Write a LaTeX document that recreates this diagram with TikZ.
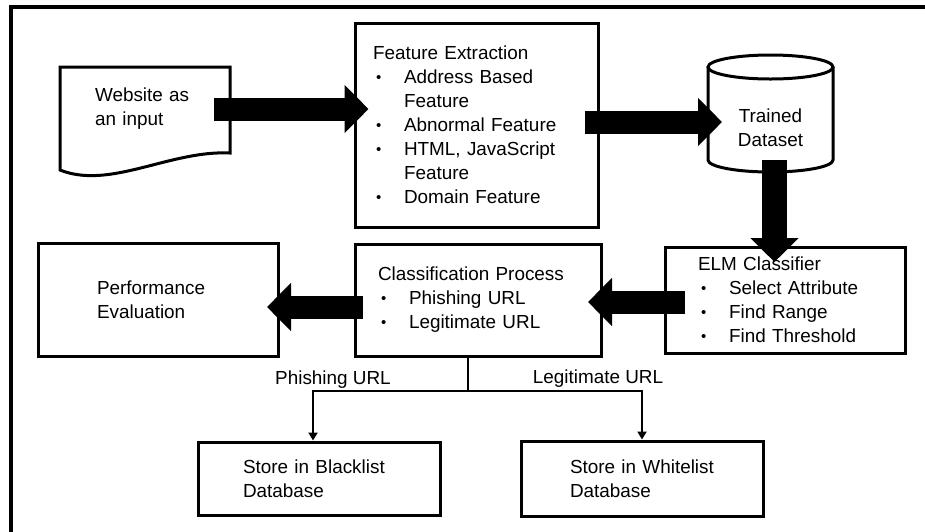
\documentclass[tikz,border=0pt]{standalone}
\usepackage{fontspec}
\setmainfont{Liberation Sans}
\usepackage{tikz}
\usetikzlibrary{positioning, arrows.meta, calc}

\newcommand{\bul}[1]{\hspace*{3pt}\makebox[28pt][l]{\raisebox{1.5pt}{\fontsize{15}{15}\selectfont\textbullet}}#1}
\newcommand{\cont}[1]{\hspace*{31pt}#1}

\begin{document}
\begin{tikzpicture}[x=1pt, y=-1pt,
  font=\fontsize{18.9}{24}\selectfont,
  box/.style={draw, line width=3pt, rectangle, align=left, inner ysep=0pt},
  fatarrow/.style={line width=23pt, -{Triangle[length=24pt, width=47pt]}},
  thinarrow/.style={line width=2pt, -{Triangle[length=8pt, width=9pt]}},
  lbl/.style={inner sep=0pt}]

\useasboundingbox (0,0) rectangle (925,531);
\clip (0,0) rectangle (925,531);

% Frame
\draw[line width=3.5pt] (11,560) -- (11,7) -- (960,7);

% --- Top row ---
% Input document
\node[align=left, inner xsep=35pt, inner ysep=0pt, outer sep=0pt, text width=100pt,
  minimum width=170pt, minimum height=84pt] (web) at (145,109) {Website as\\an input};
\draw[line width=3pt] ($(web.south east)+(0,2)$) -- (web.north east) -- (web.north west)
  -- ($(web.south west)+(0,19)$) .. controls ($(web.south west)+(50,39)$) and ($(web.south east)+(-60,-1)$)
  .. ($(web.south east)+(0,2)$) -- cycle;

% Feature extraction
\node[box, inner xsep=18pt, text width=207pt, minimum width=243pt, minimum height=204pt]
  (feat) at (476.5,125) {Feature Extraction\\
  \bul{Address Based}\\
  \cont{Feature}\\
  \bul{Abnormal Feature}\\
  \bul{HTML, JavaScript}\\
  \cont{Feature}\\
  \bul{Domain Feature}\par\vspace*{20pt}};

% Trained dataset (cylinder)
\node[align=center, inner sep=0pt, outer sep=0pt, minimum width=125pt, minimum height=64pt]
  (data) at (770.5,128) {Trained\\Dataset};
\draw[line width=3pt] ($(data.north)+(0,-29)$) ellipse [x radius=62.5pt, y radius=12pt];
\draw[line width=3pt] ($(data.north west)+(0,-29)$) -- (data.south west)
  arc [start angle=180, end angle=360, x radius=62.5pt, y radius=12pt]
  -- ($(data.north east)+(0,-29)$);

% --- Middle row ---
\node[box, inner xsep=33pt, text width=174pt, minimum width=240pt, minimum height=106pt]
  (elm) at (785,300) {ELM Classifier\\
  \bul{Select Attribute}\\
  \bul{Find Range}\\
  \bul{Find Threshold}};

\node[box, inner xsep=23pt, text width=200pt, minimum width=246pt, minimum height=112pt]
  (cls) at (478,300) {Classification Process\\
  \bul{Phishing URL}\\
  \bul{Legitimate URL}};

\node[box, inner xsep=59pt, text width=122pt, minimum width=240pt, minimum height=113pt]
  (perf) at (158,299.5) {Performance\\Evaluation};

% --- Bottom row ---
\node[box, inner xsep=45pt, text width=152pt, minimum width=242pt, minimum height=73pt]
  (black) at (319,478.5) {Store in Blacklist\\Database};
\node[box, inner xsep=49pt, text width=144pt, minimum width=242pt, minimum height=75pt]
  (white) at (642,478.5) {Store in Whitelist\\Database};

% Block arrows
\draw[fatarrow, shorten <=-16pt, shorten >=-15pt] (web.east) -- (web.east -| feat.west);
\coordinate (f2) at ($(feat.east)+(0,-3)$);
\draw[fatarrow, shorten <=-14.5pt, shorten >=-14pt] (f2) -- (f2 -| data.west);
\coordinate (d3) at ($(data.south)+(4,0)$);
\draw[fatarrow, line width=25pt, shorten >=-16.5pt] (d3) -- (d3 |- elm.north);
\coordinate (e4) at ($(elm.west)+(0,2)$);
\draw[fatarrow, shorten <=-21.5pt, shorten >=-14.5pt] (e4) -- (e4 -| cls.east);
\coordinate (c5) at ($(cls.west)+(0,7)$);
\draw[fatarrow, shorten <=-9.5pt, shorten >=-12.5pt] (c5) -- (c5 -| perf.east);

% Split into black / white list
\coordinate (split) at (468,391);
\draw[line width=2pt] (split |- cls.south) -- (split);
\draw[thinarrow] (split) -| ($(black.north)+(-6,0)$);
\draw[thinarrow] (split) -| (white.north);
\node[lbl] (phish) at (333,380) {Phishing URL};
\node[lbl] (legit) at (598,379) {Legitimate URL};

\end{tikzpicture}
\end{document}
